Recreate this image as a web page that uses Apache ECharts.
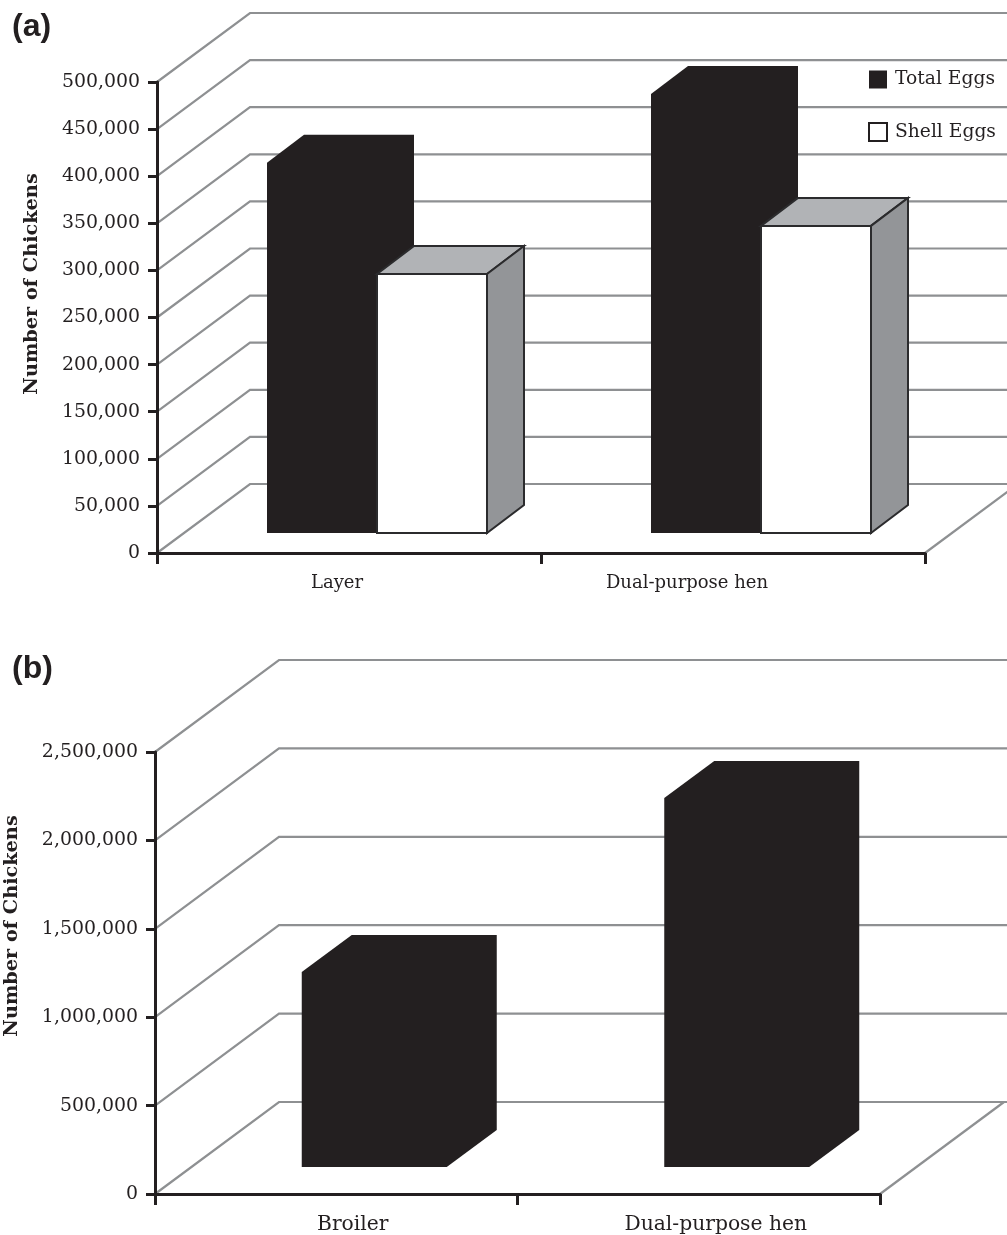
<!DOCTYPE html>
<html>
<head>
<meta charset="utf-8">
<style>
  html, body { margin: 0; padding: 0; background: #fff; }
  #chart { width: 1007px; height: 1235px; }
</style>
<script src="https://cdn.jsdelivr.net/npm/echarts@6/dist/echarts.min.js"></script>
</head>
<body>
<div id="chart"></div>
<script>
const categoriesA = ['Layer', 'Dual-purpose hen'];
const totalEggsA = [393000, 466000];
const shellEggsA = [275000, 326000];
const ticksA = [0, 50000, 100000, 150000, 200000, 250000, 300000, 350000, 400000, 450000, 500000];

const categoriesB = ['Broiler', 'Dual-purpose hen'];
const totalEggsB = [1103000, 2087000];
const ticksB = [0, 500000, 1000000, 1500000, 2000000, 2500000];

const serif = '"DejaVu Serif", serif';
const ink = '#231f20';
const gridGrey = '#8e9092';

// fake 3d depth of each panel, in pixels
const depthA = { backX: 93, backY: 69, floorX: 28, floorY: 20, sideX: 37, sideY: 28, barWidth: 110, shift: 28 };
const depthB = { backX: 124, backY: 92, floorX: 38, floorY: 27, sideX: 50, sideY: 37, barWidth: 145, shift: 38 };

// gridlines running up the side wall and along the back wall
function wallLines(depth) {
    return function(params, api) {
        const sys = params.coordSys;
        const y = api.coord([0, api.value(1)])[1];
        return {
            type: 'polyline',
            shape: {
                points: [
                    [sys.x, y],
                    [sys.x + depth.backX, y - depth.backY],
                    [1007, y - depth.backY]
                ]
            },
            style: { fill: null, stroke: gridGrey, lineWidth: 2.2 }
        };
    };
}

// right wall edge of the floor
function floorEdge(depth) {
    return function(params) {
        const sys = params.coordSys;
        const bottom = sys.y + sys.height;
        return {
            type: 'line',
            shape: { x1: sys.x + sys.width, y1: bottom, x2: sys.x + sys.width + depth.backX, y2: bottom - depth.backY },
            style: { stroke: gridGrey, lineWidth: 2.2 }
        };
    };
}

function solidBar(depth, slot) {
    return function(params, api) {
        const top = api.coord([api.value(0), api.value(1)]);
        const base = api.coord([api.value(0), 0]);
        const left = top[0] + depth.shift + slot * depth.barWidth;
        const right = left + depth.barWidth;
        const y1 = top[1] - depth.floorY;
        const y0 = base[1] - depth.floorY;
        return {
            type: 'polygon',
            shape: {
                points: [
                    [left, y0], [left, y1],
                    [left + depth.sideX, y1 - depth.sideY],
                    [right + depth.sideX, y1 - depth.sideY],
                    [right + depth.sideX, y0 - depth.sideY],
                    [right, y0]
                ]
            },
            style: { fill: ink, stroke: null }
        };
    };
}

function whiteBar(depth, slot) {
    return function(params, api) {
        const top = api.coord([api.value(0), api.value(1)]);
        const base = api.coord([api.value(0), 0]);
        const left = top[0] + depth.shift + slot * depth.barWidth;
        const right = left + depth.barWidth;
        const y1 = top[1] - depth.floorY;
        const y0 = base[1] - depth.floorY;
        const edge = { stroke: '#2b2b2d', lineWidth: 2, lineJoin: 'miter' };
        return {
            type: 'group',
            children: [
                {
                    type: 'polygon',
                    shape: { points: [[left, y1], [left + depth.sideX, y1 - depth.sideY], [right + depth.sideX, y1 - depth.sideY], [right, y1]] },
                    style: Object.assign({ fill: '#b1b3b6' }, edge)
                },
                {
                    type: 'polygon',
                    shape: { points: [[right, y1], [right + depth.sideX, y1 - depth.sideY], [right + depth.sideX, y0 - depth.sideY], [right, y0]] },
                    style: Object.assign({ fill: '#939598' }, edge)
                },
                {
                    type: 'rect',
                    shape: { x: left, y: y1, width: depth.barWidth, height: y0 - y1 },
                    style: Object.assign({ fill: '#fff' }, edge)
                }
            ]
        };
    };
}

// the labels do not sit at the middle of their bands, nudge them with padding
function xAxisFor(gridIndex, names, paddings, fontSize) {
    return {
        type: 'category',
        gridIndex: gridIndex,
        data: names.map(function(name, i) {
            return { value: name, textStyle: { padding: paddings[i] } };
        }),
        z: 6,
        axisLine: { lineStyle: { color: ink, width: 3 } },
        axisTick: { show: true, length: 11, lineStyle: { color: ink, width: 3 } },
        axisLabel: { color: ink, fontFamily: serif, fontSize: fontSize, margin: 21 }
    };
}

function yAxisFor(gridIndex, max, interval, fontSize) {
    return {
        type: 'value',
        gridIndex: gridIndex,
        min: 0,
        max: max,
        interval: interval,
        z: 6,
        splitLine: { show: false },
        axisLine: { show: true, lineStyle: { color: ink, width: 3 } },
        axisTick: { show: true, length: 9, lineStyle: { color: ink, width: 3 } },
        axisLabel: {
            color: ink,
            fontFamily: serif,
            fontSize: fontSize,
            margin: 17,
            formatter: function(v) { return v.toLocaleString('en-US'); }
        }
    };
}

function pairs(values) {
    return values.map(function(v, i) { return [i, v]; });
}

function axisTitle(x, y) {
    return {
        type: 'text',
        x: x,
        y: y,
        rotation: Math.PI / 2,
        style: {
            text: 'Number of Chickens',
            fill: ink,
            font: 'bold 19.3px ' + serif,
            align: 'center',
            verticalAlign: 'middle'
        }
    };
}

const chart = echarts.init(document.getElementById('chart'));

chart.setOption({
    animation: false,
    backgroundColor: '#fff',
    title: [
        { text: '(a)', left: 7, top: 6, textStyle: { fontFamily: '"Liberation Sans"', fontWeight: 'bold', fontSize: 32, color: ink } },
        { text: '(b)', left: 7, top: 648, textStyle: { fontFamily: '"Liberation Sans"', fontWeight: 'bold', fontSize: 32, color: ink } }
    ],
    legend: {
        orient: 'vertical',
        left: 863,
        top: 65,
        itemWidth: 18,
        itemHeight: 18,
        itemGap: 33,
        textStyle: { color: ink, fontFamily: serif, fontSize: 18.7, padding: [0, 0, 0, 3] },
        data: [
            { name: 'Total Eggs', icon: 'rect', itemStyle: { color: ink, borderWidth: 0 } },
            { name: 'Shell Eggs', icon: 'rect', itemStyle: { color: '#fff', borderColor: ink, borderWidth: 2 } }
        ]
    },
    grid: [
        { left: 157, top: 82, width: 768, height: 471 },
        { left: 155, top: 752, width: 725, height: 442 }
    ],
    xAxis: [
        xAxisFor(0, categoriesA, [[0, 24, 0, 0], [0, 92, 0, 0]], 18),
        xAxisFor(1, categoriesB, [[0, 0, 0, 33], [0, 0, 0, 34]], 20.3)
    ],
    yAxis: [yAxisFor(0, 500000, 50000, 18.9), yAxisFor(1, 2500000, 500000, 18.9)],
    graphic: [axisTitle(32, 284), axisTitle(12, 926)],
    series: [
        { type: 'custom', name: 'wallA', xAxisIndex: 0, yAxisIndex: 0, z: 1, silent: true, data: pairs(ticksA).map(function(p) { return [0, p[1]]; }), renderItem: wallLines(depthA) },
        { type: 'custom', name: 'floorA', xAxisIndex: 0, yAxisIndex: 0, z: 1, silent: true, data: [[0, 0]], renderItem: floorEdge(depthA) },
        { type: 'custom', name: 'Total Eggs', xAxisIndex: 0, yAxisIndex: 0, z: 2, itemStyle: { color: ink }, data: pairs(totalEggsA), renderItem: solidBar(depthA, -1) },
        { type: 'custom', name: 'Shell Eggs', xAxisIndex: 0, yAxisIndex: 0, z: 3, itemStyle: { color: '#fff' }, data: pairs(shellEggsA), renderItem: whiteBar(depthA, 0) },
        { type: 'custom', name: 'wallB', xAxisIndex: 1, yAxisIndex: 1, z: 1, silent: true, data: pairs(ticksB).map(function(p) { return [0, p[1]]; }), renderItem: wallLines(depthB) },
        { type: 'custom', name: 'floorB', xAxisIndex: 1, yAxisIndex: 1, z: 1, silent: true, data: [[0, 0]], renderItem: floorEdge(depthB) },
        { type: 'custom', name: 'Total Eggs B', xAxisIndex: 1, yAxisIndex: 1, z: 2, data: pairs(totalEggsB), renderItem: solidBar(depthB, -0.5) }
    ]
});
</script>
</body>
</html>
